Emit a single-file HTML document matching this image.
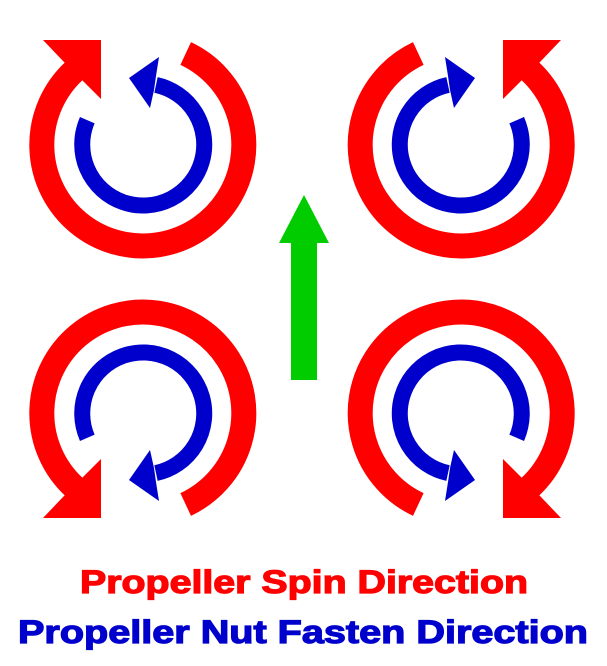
<!DOCTYPE html>
<html><head><meta charset="utf-8"><style>html,body{margin:0;padding:0;background:#fff}svg{display:block}</style></head>
<body>
<svg width="607" height="666" viewBox="0 0 607 666" xmlns="http://www.w3.org/2000/svg">
<defs>
<g id="q">
<path d="M185.7,53.5 A101,101 0 1 1 74,71" fill="none" stroke="#ff0000" stroke-width="25"/>
<polygon points="43,40 101,40 101,99 80,78 63,61" fill="#ff0000"/>
<path d="M87.3,120.2 A61,61 0 1 0 156,84.9" fill="none" stroke="#0000cc" stroke-width="16"/>
<polygon points="159,57 129,78 150,108 154,90 156,76" fill="#0000cc"/>
</g>
</defs>
<use href="#q"/>
<use href="#q" transform="translate(604,0) scale(-1,1)"/>
<use href="#q" transform="translate(0,558) scale(1,-1)"/>
<use href="#q" transform="translate(604,558) scale(-1,-1)"/>
<polygon points="304,195 329,243 317,243 317,380 291,380 291,243 279,243" fill="#00cc00"/>
<text x="304" y="593" text-anchor="middle" font-family="Liberation Sans, sans-serif" font-weight="bold" font-size="32" fill="#ff0000" stroke="#ff0000" stroke-width="1.2" textLength="448" lengthAdjust="spacingAndGlyphs">Propeller Spin Direction</text>
<text x="303" y="643" text-anchor="middle" font-family="Liberation Sans, sans-serif" font-weight="bold" font-size="32" fill="#0000cc" stroke="#0000cc" stroke-width="1.2" textLength="570" lengthAdjust="spacingAndGlyphs">Propeller Nut Fasten Direction</text>
</svg>
</body></html>
